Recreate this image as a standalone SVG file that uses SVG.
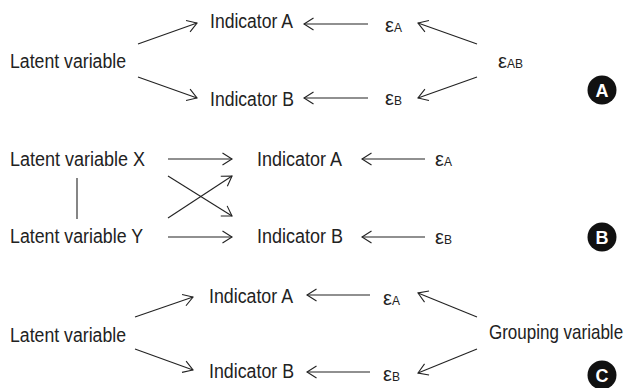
<svg xmlns="http://www.w3.org/2000/svg" width="631" height="388" viewBox="0 0 631 388">
  <defs>
    <marker id="open" viewBox="-11 -7 13 14" markerWidth="13" markerHeight="14" refX="0" refY="0" orient="auto" markerUnits="userSpaceOnUse">
      <path d="M-9.5,-6 L0,0 L-9.5,6" fill="none" stroke="#222" stroke-width="1.1"/>
    </marker>
  </defs>
  <style>
    text { font-family: "Liberation Sans", Arial, sans-serif; font-size: 20px; fill: #222; }
    .sub { font-size: 12px; }
    .badge { fill: #111; }
    .badge-t { font-family: "Liberation Sans", Arial, sans-serif; font-weight: bold; font-size: 18px; fill: #fff; text-anchor: middle; }
    .edge { stroke: #222; stroke-width: 1.1; fill: none; marker-end: url(#open); }
    .plain { stroke: #222; stroke-width: 1.1; fill: none; }
  </style>
  <rect width="631" height="388" fill="#fff"/>

  <!-- Panel A: one latent variable, correlated residuals -->
  <g id="a-latent"><text x="10" y="68" textLength="116" lengthAdjust="spacingAndGlyphs">Latent variable</text></g>
  <g id="a-indA"><text x="210" y="28" textLength="83" lengthAdjust="spacingAndGlyphs">Indicator A</text></g>
  <g id="a-indB"><text x="210" y="106" textLength="84" lengthAdjust="spacingAndGlyphs">Indicator B</text></g>
  <g id="a-epsA"><text x="385" y="32">ε<tspan class="sub">A</tspan></text></g>
  <g id="a-epsB"><text x="385" y="105">ε<tspan class="sub">B</tspan></text></g>
  <g id="a-epsAB"><text x="498" y="68">ε<tspan class="sub">AB</tspan></text></g>
  <g id="a-badge"><circle class="badge" cx="602" cy="90" r="14.5"/><text class="badge-t" x="602" y="96.5">A</text></g>

  <!-- Panel B: two correlated latent variables with cross loadings -->
  <g id="b-latentX"><text x="10" y="166" textLength="135" lengthAdjust="spacingAndGlyphs">Latent variable X</text></g>
  <g id="b-latentY"><text x="10" y="243" textLength="133" lengthAdjust="spacingAndGlyphs">Latent variable Y</text></g>
  <g id="b-indA"><text x="257" y="166" textLength="85" lengthAdjust="spacingAndGlyphs">Indicator A</text></g>
  <g id="b-indB"><text x="257" y="243" textLength="86" lengthAdjust="spacingAndGlyphs">Indicator B</text></g>
  <g id="b-epsA"><text x="435" y="166">ε<tspan class="sub">A</tspan></text></g>
  <g id="b-epsB"><text x="435" y="244">ε<tspan class="sub">B</tspan></text></g>
  <g id="b-badge"><circle class="badge" cx="602" cy="237" r="14.5"/><text class="badge-t" x="602" y="243.5">B</text></g>

  <!-- Panel C: one latent variable, grouping variable on residuals -->
  <g id="c-latent"><text x="10" y="342" textLength="116" lengthAdjust="spacingAndGlyphs">Latent variable</text></g>
  <g id="c-indA"><text x="209" y="303" textLength="84" lengthAdjust="spacingAndGlyphs">Indicator A</text></g>
  <g id="c-indB"><text x="209" y="378" textLength="85" lengthAdjust="spacingAndGlyphs">Indicator B</text></g>
  <g id="c-epsA"><text x="383" y="305">ε<tspan class="sub">A</tspan></text></g>
  <g id="c-epsB"><text x="383" y="381">ε<tspan class="sub">B</tspan></text></g>
  <!-- narrowed horizontally so the label ends inside the right margin -->
  <g id="c-group"><text transform="translate(489,339) scale(0.85,1)" x="0" y="0">Grouping variable</text></g>
  <g id="c-badge"><circle class="badge" cx="602" cy="375" r="14.5"/><text class="badge-t" x="602" y="381.5">C</text></g>

  <g id="connectors">
    <!-- A -->
    <line class="edge" x1="138" y1="44" x2="197" y2="23"/>
    <line class="edge" x1="138" y1="77" x2="197" y2="98"/>
    <line class="edge" x1="368" y1="24" x2="304" y2="24"/>
    <line class="edge" x1="368" y1="98" x2="304" y2="98"/>
    <line class="edge" x1="477" y1="44" x2="418" y2="23"/>
    <line class="edge" x1="477" y1="77" x2="418" y2="98"/>
    <!-- B -->
    <line class="plain" x1="77" y1="178" x2="77" y2="219"/>
    <line class="edge" x1="168" y1="159" x2="232" y2="159"/>
    <line class="edge" x1="168" y1="237" x2="232" y2="237"/>
    <line class="edge" x1="168" y1="176" x2="232" y2="216"/>
    <line class="edge" x1="168" y1="218" x2="232" y2="176"/>
    <line class="edge" x1="425" y1="159" x2="362" y2="159"/>
    <line class="edge" x1="425" y1="237" x2="362" y2="237"/>
    <!-- C -->
    <line class="edge" x1="135" y1="317" x2="193" y2="297"/>
    <line class="edge" x1="135" y1="349" x2="193" y2="370"/>
    <line class="edge" x1="370" y1="295" x2="307" y2="295"/>
    <line class="edge" x1="370" y1="372" x2="307" y2="372"/>
    <line class="edge" x1="477" y1="317" x2="418" y2="293"/>
    <line class="edge" x1="477" y1="349" x2="418" y2="373"/>
  </g>
</svg>
